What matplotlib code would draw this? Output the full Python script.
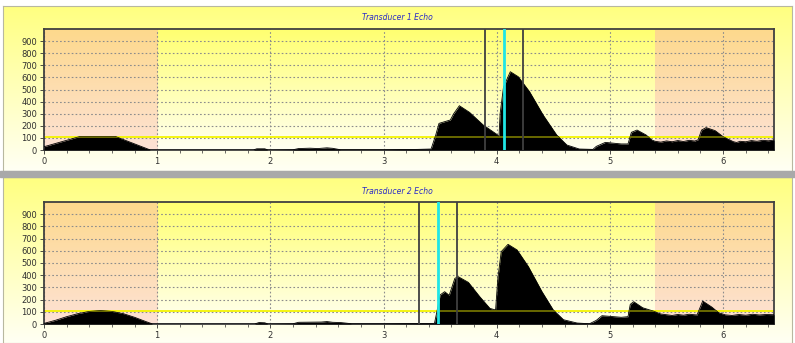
import numpy as np
import matplotlib
matplotlib.use("Agg")
import matplotlib.pyplot as plt
from matplotlib.colors import LinearSegmentedColormap
from matplotlib.patches import Rectangle

# echo envelopes (time, amplitude)
x1 = [0.0, 0.32, 0.63, 0.94, 1.0, 1.85, 1.88, 1.95, 1.98, 2.2, 2.25, 2.35, 2.42, 2.5, 2.55,
      2.62, 3.0, 3.3, 3.42, 3.46, 3.49, 3.54, 3.59, 3.62, 3.67, 3.76, 3.88, 4.0, 4.02, 4.03,
      4.06, 4.12, 4.19, 4.29, 4.41, 4.53, 4.62, 4.73, 4.85, 4.88, 4.96, 5.1, 5.16, 5.19,
      5.24, 5.32, 5.37, 5.4, 5.45, 5.5, 5.55, 5.6, 5.65, 5.7, 5.75, 5.78, 5.81, 5.85, 5.93,
      6.0, 6.09, 6.12, 6.15, 6.2, 6.25, 6.3, 6.35, 6.4, 6.45]
y1 = [27, 112, 112, 0, 0, 0, 10, 10, 0, 2, 12, 15, 12, 18, 14, 2, 2, 5, 8, 120, 220, 234,
      248, 300, 366, 311, 207, 130, 110, 300, 520, 647, 606, 482, 289, 124, 41, 8, 5, 30,
      63, 50, 50, 146, 165, 124, 83, 72, 65, 75, 68, 78, 70, 80, 74, 85, 165, 185, 160, 110,
      69, 62, 72, 68, 78, 72, 80, 76, 82]

x2 = [0.0, 0.1, 0.2, 0.3, 0.4, 0.5, 0.6, 0.7, 0.8, 0.9, 0.96, 1.0, 1.86, 1.9, 1.95, 1.98,
      2.2, 2.25, 2.35, 2.45, 2.5, 2.55, 2.62, 2.68, 2.72, 3.0, 3.3, 3.45, 3.48, 3.5, 3.54,
      3.58, 3.63, 3.66, 3.75, 3.85, 3.94, 3.99, 4.01, 4.04, 4.1, 4.18, 4.28, 4.4, 4.5,
      4.59, 4.71, 4.82, 4.88, 4.93, 5.1, 5.16, 5.18, 5.21, 5.29, 5.38, 5.45, 5.5, 5.55, 5.6,
      5.65, 5.7, 5.77, 5.82, 5.9, 5.96, 6.02, 6.08, 6.14, 6.2, 6.26, 6.32, 6.38, 6.45]
y2 = [5, 30, 60, 85, 103, 110, 103, 85, 55, 20, 0, 0, 0, 12, 10, 0, 2, 14, 15, 16, 20, 14,
      12, 6, 2, 2, 4, 5, 140, 238, 265, 235, 374, 388, 341, 224, 128, 115, 374, 593, 653,
      607, 470, 265, 115, 35, 8, 2, 30, 68, 55, 60, 161, 183, 133, 107, 82, 76, 70, 78, 72,
      80, 74, 188, 139, 93, 75, 70, 78, 72, 80, 74, 78, 76]

titles = ["Transducer 1 Echo", "Transducer 2 Echo"]
gates = [(3.90, 4.06, 4.23), (3.31, 3.48, 3.65)]
threshold = 110
blank_zones = [(0.0, 1.0), (5.4, 6.45)]

W, H = 795, 343


def rect(x0, y0, x1_, y1_):
    return [x0 / W, 1 - y1_ / H, (x1_ - x0) / W, (y1_ - y0) / H]


def vgrad(top, bottom):
    return LinearSegmentedColormap.from_list("g", [bottom, top])


grad = np.linspace(0, 1, 256).reshape(-1, 1)

fig = plt.figure(figsize=(7.95, 3.43), dpi=100)

# grey separator between the two panels
fig.patches.append(Rectangle((0, 1 - 177 / H), 1, 6 / H, transform=fig.transFigure,
                             color="#a9a9a9", zorder=0))

panels = [((3, 6, 792, 171), (44, 29, 774, 150)),
          ((3, 177, 792, 343), (44, 202, 774, 324))]

for i, (outer, inner) in enumerate(panels):
    bg = fig.add_axes(rect(*outer))
    bg.imshow(grad, cmap=vgrad("#ffff80", "#fffff4"), origin="lower",
              extent=(0, 1, 0, 1), aspect="auto")
    bg.set_xticks([])
    bg.set_yticks([])
    for s in bg.spines.values():
        s.set_color("#b8b8a0")
    bg.text(0.5, 1 - (11 if i == 0 else 15) / (outer[3] - outer[1]), titles[i],
            transform=bg.transAxes, ha="center", va="center", fontsize=5.5,
            style="italic", color="#2a2ac8")

    ax = fig.add_axes(rect(*inner))
    xs, ys = (x1, y1) if i == 0 else (x2, y2)
    ax.imshow(grad, cmap=vgrad("#ffff70", "#fffff2"), origin="lower",
              extent=(0, 6.45, 0, 1000), aspect="auto", zorder=0)
    for a, b in blank_zones:
        ax.imshow(grad, cmap=vgrad("#fed98c", "#fde2d6"), origin="lower",
                  extent=(a, b, 0, 1000), aspect="auto", zorder=0.5)

    # threshold: bright yellow on background, olive where it crosses the echo
    ax.axhline(threshold, color="#f4f400", lw=1.3, zorder=2)
    poly = ax.fill_between(xs, ys, 0, color="black", lw=0, zorder=3)
    ax.plot(xs, ys, color="black", lw=0.6, zorder=3)
    dark = ax.axhline(threshold, color="#707000", lw=1.3, zorder=4)
    dark.set_clip_path(poly.get_paths()[0], transform=ax.transData)

    g0, gc, g1 = gates[i]
    ax.axvline(g0, color="#404040", lw=1.3, zorder=6)
    ax.axvline(g1, color="#404040", lw=1.3, zorder=6)
    ax.axvline(gc, color="#20e6e6", lw=2, zorder=7)

    ax.set_xlim(0, 6.45)
    ax.set_ylim(0, 1000)
    ax.set_xticks(range(0, 7))
    ax.set_xticks(np.arange(0, 6.45, 0.2), minor=True)
    ax.set_yticks(range(0, 1000, 100))
    ax.grid(True, which="major", color="#8c8c8c", linestyle=(0, (1.5, 2)), lw=0.8)
    for gl in ax.get_xgridlines() + ax.get_ygridlines():
        gl.set_zorder(1)
    ax.tick_params(labelsize=6, length=3, width=0.6, colors="#303030", pad=2)
    ax.tick_params(which="minor", length=2, width=0.5, colors="#303030")
    for s in ax.spines.values():
        s.set_color("#404040")
        s.set_linewidth(1.3)

fig.savefig("out.png", dpi=100)
